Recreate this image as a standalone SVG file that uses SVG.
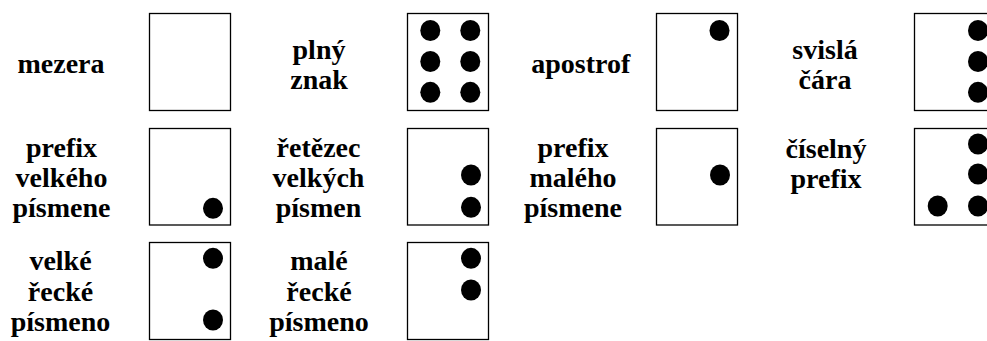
<svg xmlns="http://www.w3.org/2000/svg" width="987" height="341" viewBox="0 0 987 341">
<style>
text{font-family:'Liberation Serif','Times New Roman',serif;font-weight:700;font-size:28px;fill:#000;text-anchor:middle}
.b{fill:#fff;stroke:#000;stroke-width:1.3}
.d{fill:#000}
</style>
<defs><ellipse id="dot" rx="10" ry="10.5" class="d"/></defs>
<rect width="987" height="341" fill="#fff"/>
<g id="mezera">
<text x="61" y="73">mezera</text>
<rect class="b" x="149.5" y="13.5" width="81" height="97"/>
</g>
<g id="plny-znak">
<text x="319" y="59">plný</text>
<text x="319" y="89">znak</text>
<rect class="b" x="407.5" y="13.5" width="81" height="97"/>
<use href="#dot" x="430.3" y="30.5"/><use href="#dot" x="470.3" y="30.5"/>
<use href="#dot" x="430.3" y="61.5"/><use href="#dot" x="470.3" y="61.5"/>
<use href="#dot" x="430.3" y="92.3"/><use href="#dot" x="470.3" y="92.3"/>
</g>
<g id="apostrof">
<text x="580.7" y="73">apostrof</text>
<rect class="b" x="656.5" y="13.5" width="81" height="97"/>
<use href="#dot" x="719.5" y="30.5"/>
</g>
<g id="svisla-cara">
<text x="825" y="59">svislá</text>
<text x="825" y="89">čára</text>
<rect class="b" x="914.5" y="13.5" width="81" height="97"/>
<use href="#dot" x="978" y="30.5"/><use href="#dot" x="978" y="61.5"/><use href="#dot" x="978" y="92.3"/>
</g>
<g id="prefix-velkeho">
<text x="61.5" y="157">prefix</text>
<text x="61.5" y="187">velkého</text>
<text x="61.5" y="217">písmene</text>
<rect class="b" x="149.5" y="128.5" width="81" height="96.5"/>
<use href="#dot" x="213" y="208.3"/>
</g>
<g id="retezec-velkych">
<text x="318.5" y="157">řetězec</text>
<text x="318.5" y="187">velkých</text>
<text x="318.5" y="217">písmen</text>
<rect class="b" x="407.5" y="128.5" width="81" height="96.5"/>
<use href="#dot" x="471" y="175"/><use href="#dot" x="471" y="207.3"/>
</g>
<g id="prefix-maleho">
<text x="573" y="157">prefix</text>
<text x="573" y="187">malého</text>
<text x="573" y="217">písmene</text>
<rect class="b" x="656.5" y="128.5" width="81" height="96.5"/>
<use href="#dot" x="720" y="175"/>
</g>
<g id="ciselny-prefix">
<text x="826" y="158">číselný</text>
<text x="826" y="188">prefix</text>
<rect class="b" x="914.5" y="128.5" width="81" height="96.5"/>
<use href="#dot" x="978" y="144"/><use href="#dot" x="978" y="174"/><use href="#dot" x="978" y="206"/>
<use href="#dot" x="937.7" y="206"/>
</g>
<g id="velke-recke">
<text x="60.5" y="270">velké</text>
<text x="60.5" y="301">řecké</text>
<text x="60.5" y="331">písmeno</text>
<rect class="b" x="149.5" y="242.5" width="81" height="97"/>
<use href="#dot" x="213" y="258.3"/><use href="#dot" x="213" y="320"/>
</g>
<g id="male-recke">
<text x="319" y="270">malé</text>
<text x="319" y="301">řecké</text>
<text x="319" y="331">písmeno</text>
<rect class="b" x="407.5" y="242.5" width="81" height="97"/>
<use href="#dot" x="471" y="258.3"/><use href="#dot" x="471" y="290"/>
</g>
<g id="connectors"/>
</svg>
